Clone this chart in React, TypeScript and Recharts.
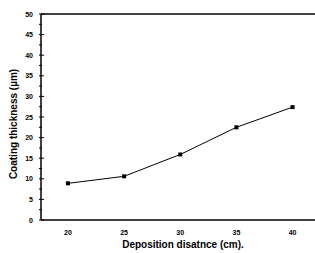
import React from "react";
import { LineChart, Line, XAxis, YAxis, ReferenceLine, Label } from "recharts";

const distances = [20, 25, 30, 35, 40];
const thickness = [8.9, 10.6, 15.9, 22.5, 27.4];
const xTicks = [20, 25, 30, 35, 40];
const yTicks = [0, 2.5, 5, 7.5, 10, 12.5, 15, 17.5, 20, 22.5, 25, 27.5, 30, 32.5, 35, 37.5, 40, 42.5, 45, 47.5, 50];

const data = distances.map((d, i) => ({ d, t: thickness[i] }));

const font = "Arial, 'Liberation Sans', sans-serif";

function YTick({ x, y, payload }: any) {
  const v = payload.value as number;
  const major = v % 5 === 0;
  return (
    <g>
      <line x1={x} y1={y} x2={x + (major ? 5 : 3)} y2={y} stroke="#000" strokeWidth={1} />
      {major && (
        <text x={x - 6} y={y} dy={2.5} textAnchor="end" fontSize={7} fontWeight="bold" fontFamily={font} fill="#000">
          {v}
        </text>
      )}
    </g>
  );
}

function Square({ cx, cy }: any) {
  return <rect x={cx - 2} y={cy - 2} width={4} height={4} fill="#000" />;
}

function YLabel({ viewBox }: any) {
  const cx = viewBox.x + 17;
  const cy = viewBox.y + viewBox.height / 2 + 7;
  return (
    <text x={cx} y={cy} transform={`rotate(-90 ${cx} ${cy})`} textAnchor="middle" fontSize={10} fontWeight="bold" fontFamily={font} fill="#000">
      Coating thickness (µm)
    </text>
  );
}

function XLabel({ viewBox }: any) {
  const cx = viewBox.x + viewBox.width / 2 + 5;
  const cy = viewBox.y + 28;
  return (
    <text x={cx} y={cy} textAnchor="middle" fontSize={10} fontWeight="bold" fontFamily={font} fill="#000">
      Deposition disatnce (cm).
    </text>
  );
}

export default function App() {
  return (
    <div style={{ position: "absolute", left: 0, top: 0, background: "#fff" }}>
      <LineChart width={315} height={253} data={data} margin={{ top: 14, right: 0, left: 0, bottom: 0 }}>
        <XAxis
          dataKey="d"
          type="number"
          domain={[17.6, 42]}
          ticks={xTicks}
          tickLine={false}
          axisLine={{ stroke: "#000", strokeWidth: 1.5 }}
          height={33}
          tick={{ fontSize: 7, fontWeight: "bold", fontFamily: font, fill: "#000" }}
          tickMargin={4}
          allowDataOverflow
        >
          <Label content={<XLabel />} />
        </XAxis>
        <YAxis
          type="number"
          domain={[0, 50]}
          ticks={yTicks}
          interval={0}
          width={41}
          tickLine={false}
          tickSize={0}
          axisLine={{ stroke: "#000", strokeWidth: 1.5 }}
          tick={<YTick />}
        >
          <Label content={<YLabel />} />
        </YAxis>
        <ReferenceLine y={50} stroke="#000" strokeWidth={1.5} />
        <Line
          type="linear"
          dataKey="t"
          stroke="#000"
          strokeWidth={1}
          dot={<Square />}
          isAnimationActive={false}
        />
      </LineChart>
    </div>
  );
}
